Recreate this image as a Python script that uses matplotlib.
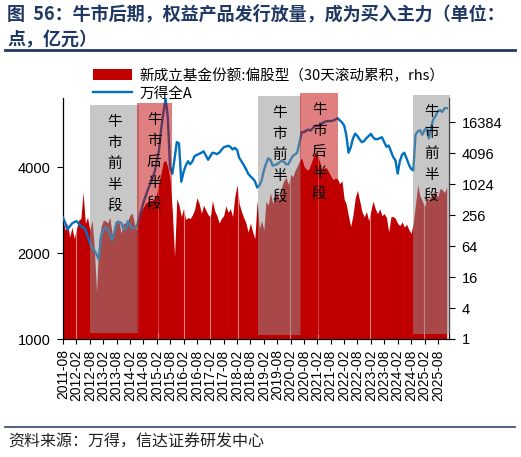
import matplotlib
matplotlib.use('Agg')
import matplotlib.pyplot as plt
import matplotlib.dates as mdates
from matplotlib.patches import Patch, Rectangle
from matplotlib.lines import Line2D
from matplotlib.ticker import NullLocator, FixedLocator, FixedFormatter
from matplotlib.transforms import blended_transform_factory
import pandas as pd

plt.rcParams['font.family'] = ['Noto Sans CJK SC', 'DejaVu Sans']

# monthly readings, first value = 2011-08
start_month = '2011-08-01'

# 万得全A (left axis, points)
wind_all_a = [
    2667, 2550, 2420, 2480, 2540, 2570, 2590, 2540, 2490, 2460, 2430, 2300,
    2180, 2090, 2050, 1980, 1900, 2300, 2410, 2470, 2430, 2330, 2220, 2350,
    2560, 2560, 2560, 2440, 2420, 2590, 2500, 2440, 2450, 2480, 2620, 2800,
    3000, 3170, 3330, 3490, 3660, 3850, 4200, 4550, 5440, 6200, 6950, 6000,
    4000, 3800, 4280, 4900, 4850, 3560, 3850, 4050, 4200, 4100, 4200, 4380,
    4420, 4460, 4500, 4550, 4400, 4250, 4380, 4500, 4480, 4450, 4500, 4600,
    4700, 4730, 4760, 4720, 4620, 4680, 4600, 4320, 4200, 4080, 3950, 3800,
    3720, 3660, 3580, 3400, 3450, 3600, 3900, 4110, 4300, 4250, 4050, 4080,
    4100, 4160, 4220, 4190, 4100, 4100, 4250, 4380, 4440, 4500, 4900, 5310,
    5310, 5380, 5420, 5380, 5500, 5590, 5590, 5600, 5700, 5760, 5800, 5810,
    5810, 5830, 5880, 5950, 5850, 5750, 5600, 5200, 4500, 4700, 5050, 5250,
    5150, 5000, 4900, 4950, 5060, 5150, 5240, 5100, 5020, 5020, 5060, 5100,
    4900, 4720, 4770, 4550, 4350, 4230, 3800, 4200, 4430, 4500, 4300, 4100,
    3950, 3900, 5200, 5350, 5400, 5200, 5400, 5500, 5050, 5500, 5900, 6050,
    6300, 6350, 6250, 6450, 6450,
]

# 新成立基金份额:偏股型, 30天滚动累积 (right axis, 亿份)
fund_issue = [
    205, 131, 179, 96, 150, 90, 140, 205, 220, 715, 179, 234,
    131, 205, 60, 8, 80, 150, 205, 200, 179, 234, 110, 160,
    205, 205, 114, 179, 179, 200, 260, 280, 179, 131, 234, 300,
    366, 440, 470, 490, 500, 500, 700, 1100, 1700, 2800, 2960, 2200,
    1300, 300, 40, 540, 400, 240, 350, 210, 230, 220, 260, 330,
    560, 430, 280, 400, 320, 260, 240, 490, 310, 250, 180, 220,
    250, 390, 290, 340, 240, 600, 1000, 430, 300, 230, 180, 120,
    180, 120, 90, 500, 140, 200, 130, 480, 400, 700, 430, 650,
    700, 500, 900, 1200, 1400, 1000, 1600, 1420, 1900, 2300, 2900, 3300,
    2300, 2000, 1950, 2500, 3300, 4300, 3700, 2900, 2000, 2100, 2150, 1800,
    1500, 1250, 1350, 1300, 1050, 1200, 520, 420, 240, 155, 260, 550,
    780, 480, 300, 237, 300, 200, 320, 480, 340, 275, 340, 250,
    275, 230, 120, 240, 240, 220, 176, 160, 190, 150, 170, 135,
    113, 180, 420, 1000, 600, 490, 372, 560, 520, 590, 720, 700,
    580, 850, 800, 700, 900,
]

# days with no issuance (holidays) that show as thin gaps
gap_dates = ['2012-01-23', '2015-02-19', '2016-02-08', '2017-01-28', '2018-02-16',
             '2020-01-25', '2021-02-12', '2023-01-22', '2025-01-29']

phase_labels = ['牛市前半段', '牛市后半段', '牛市前半段', '牛市后半段', '牛市前半段']
phase_kind = ['gray', 'red', 'gray', 'red', 'gray']
phase_start = ['2012-08-10', '2014-05-02', '2018-11-07', '2020-06-12', '2024-09-03']
phase_end = ['2014-05-28', '2015-08-22', '2020-06-28', '2021-11-12', '2026-01-15']

left_ticks = [1000, 2000, 4000]
right_ticks = [1, 4, 16, 64, 256, 1024, 4096, 16384]

months = pd.date_range(start_month, periods=len(wind_all_a), freq='MS')

W, H = 521, 457
fig = plt.figure(figsize=(W / 100, H / 100), dpi=100)

# axes box in pixels: x 63..449, y 98..339
ax_l, ax_r, ax_t, ax_b = 63, 449, 98, 339
ax1 = fig.add_axes([ax_l / W, 1 - ax_b / H, (ax_r - ax_l) / W, (ax_b - ax_t) / H])
ax2 = ax1.twinx()
ax1.set_zorder(ax2.get_zorder() + 1)
ax1.patch.set_visible(False)


def fy(py):
    return (ax_b - py) / (ax_b - ax_t)


red = '#C00000'
blue = '#0070C0'

ax2.fill_between(months, 1, fund_issue, color=red, lw=0, zorder=1)
for d in gap_dates:
    ax2.axvline(pd.Timestamp(d), color='white', lw=0.8, alpha=0.5, zorder=2)
ax2.set_yscale('log', base=2)
ax2.set_ylim(1, 48600)
ax2.yaxis.set_major_locator(FixedLocator(right_ticks))
ax2.yaxis.set_major_formatter(FixedFormatter([str(t) for t in right_ticks]))
ax2.yaxis.set_minor_locator(NullLocator())

ax1.plot(months, wind_all_a, color=blue, lw=1.7, zorder=3)
ax1.set_yscale('log')
ax1.set_ylim(1000, 7000)
ax1.yaxis.set_major_locator(FixedLocator(left_ticks))
ax1.yaxis.set_major_formatter(FixedFormatter([str(t) for t in left_ticks]))
ax1.yaxis.set_minor_locator(NullLocator())

ax1.set_xlim(pd.Timestamp('2011-08-01'), pd.Timestamp('2026-01-01'))
xt = pd.date_range('2011-08-01', '2025-08-01', freq='6MS')
ax1.set_xticks(xt)
ax1.set_xticklabels([d.strftime('%Y-%m') for d in xt], rotation=90,
                    fontfamily='Liberation Sans', fontsize=10)
ax1.xaxis.set_minor_locator(NullLocator())

for lbl in ax1.get_yticklabels() + ax2.get_yticklabels():
    lbl.set_fontfamily('Liberation Sans')
    lbl.set_fontsize(10.5)

ax1.tick_params(axis='x', direction='out', length=3.5, width=0.8, pad=4)
ax1.tick_params(axis='y', direction='out', length=4, width=0.8, pad=5)
ax2.tick_params(axis='y', direction='out', length=4, width=0.8, pad=5)

for s in ['top', 'right']:
    ax1.spines[s].set_visible(False)
for s in ['top', 'left', 'bottom']:
    ax2.spines[s].set_visible(False)
for ax in (ax1, ax2):
    for s in ax.spines.values():
        s.set_linewidth(0.9)

# phase boxes with vertical labels
trans = blended_transform_factory(ax1.transData, ax1.transAxes)
box_top_px = [105, 103, 96, 93, 95]
box_bot_px = [333, 333, 335, 335, 334]
for lab, kind, s, e, tp, bp in zip(phase_labels, phase_kind, phase_start, phase_end,
                                   box_top_px, box_bot_px):
    x0 = mdates.date2num(pd.Timestamp(s))
    x1 = mdates.date2num(pd.Timestamp(e))
    fc = '#919191' if kind == 'gray' else red
    ax1.add_patch(Rectangle((x0, fy(bp)), x1 - x0, fy(tp) - fy(bp), transform=trans,
                            facecolor=fc, alpha=0.5, lw=0, zorder=5, clip_on=False))
    xc = (x0 + min(x1, mdates.date2num(pd.Timestamp('2026-01-01')) + 1)) / 2
    for i, ch in enumerate(lab):
        ax1.text(xc, fy(tp + 17 + 21 * i), ch, transform=trans, ha='center', va='center',
                 fontsize=10.5, color='black', zorder=6)

# legend
handles = [Patch(facecolor=red, edgecolor='none'),
           Line2D([0], [0], color=blue, lw=1.7)]
labels = ['新成立基金份额:偏股型（30天滚动累积，rhs）', '万得全A']
fig.legend(handles, labels, loc='upper left', bbox_to_anchor=(93 / W, 1 - 68 / H),
           frameon=False, fontsize=10.5, handlelength=2.7, handleheight=0.75,
           handletextpad=0.5, labelspacing=0.25, borderpad=0, borderaxespad=0)

# title, rules and source
navy = '#1F3864'
fig.text(7 / W, 1 - 14 / H, '图  56：牛市后期，权益产品发行放量，成为买入主力（单位：',
         fontsize=13, fontweight='bold', color=navy, va='center', ha='left')
fig.text(7 / W, 1 - 40 / H, '点，亿元）', fontsize=13, fontweight='bold', color=navy,
         va='center', ha='left')
fig.add_artist(Line2D([5 / W, 515 / W], [1 - 50 / H] * 2, color=navy, lw=2))
fig.add_artist(Line2D([5 / W, 515 / W], [1 - 427 / H] * 2, color='#2F4468', lw=1.2))
fig.text(8 / W, 1 - 442 / H, '资料来源：万得，信达证券研发中心', fontsize=11.5,
         color='#222222', va='center', ha='left', style='italic')

fig.savefig('out.png', dpi=100)
